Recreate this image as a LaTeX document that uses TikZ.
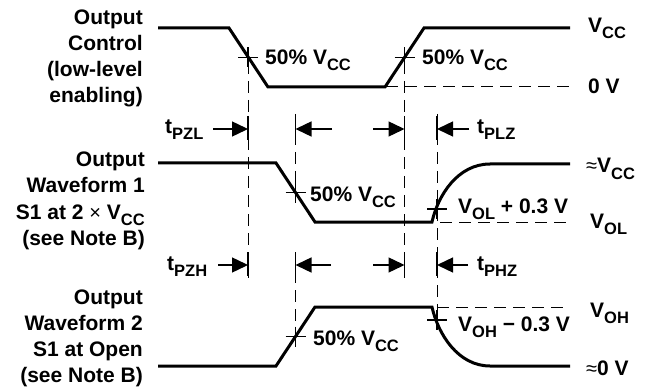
\documentclass[tikz,border=0pt]{standalone}
\usepackage{fontspec}
\setmainfont{Liberation Sans}
\usetikzlibrary{arrows.meta}
\newcommand\sbs[1]{\raisebox{-6pt}{\fontsize{16.5}{16.5}\selectfont #1}}
\newcommand\thinsym[1]{{\fontsize{20}{20}\selectfont\mdseries #1}}
\tikzset{
  lbl/.style={font=\fontsize{21}{25}\selectfont\bfseries, inner sep=0pt},
  lft/.style={lbl, anchor=base east},
  rgt/.style={lbl, anchor=base west},
  wave/.style={line width=3pt, line join=miter},
  guide/.style={line width=1pt, dash pattern=on 12pt off 7pt},
  crossline/.style={line width=1.2pt},
  tarrow/.style={line width=1.4pt, -{Triangle[length=16pt,width=15pt]}},
  tickline/.style={line width=1.2pt},
  xcross/.pic={\draw[crossline] (-10,0) -- (10,0) (0,-10) -- (0,10);}
}
\begin{document}
\begin{tikzpicture}[x=1pt,y=-1pt]
\useasboundingbox (0,0) rectangle (650,390);

% left labels
\node[lft] (l1a) at (143,25) {Output};
\node[lft] (l1b) at (143,51) {Control};
\node[lft] (l1c) at (143,77) {(low-level};
\node[lft] (l1d) at (143,103) {enabling)};
\node[lft] (l2a) at (145,167) {Output};
\node[lft] (l2b) at (145,193) {Waveform 1};
\node[lft] (l2c) at (145,219) {S1 at 2 \thinsym{×} V\sbs{CC}};
\node[lft] (l2d) at (145,245) {(see Note B)};
\node[lft] (l3a) at (143,304) {Output};
\node[lft] (l3b) at (143,330) {Waveform 2};
\node[lft] (l3c) at (143,356) {S1 at Open};
\node[lft] (l3d) at (143,382) {(see Note B)};

% right labels
\node[rgt] (r1) at (588,33) {V\sbs{CC}};
\node[rgt] (r2) at (588,94) {0 V};
\node[rgt] (r3) at (586,173) {\thinsym{≈}V\sbs{CC}};
\node[rgt] (r4) at (590,228) {V\sbs{OL}};
\node[rgt] (r5) at (590,317) {V\sbs{OH}};
\node[rgt] (r6) at (586,375) {\thinsym{≈}0 V};

% guide lines
\draw[guide] (248,62) -- (248,278);
\draw[guide] (404.5,62) -- (404.5,278);
\draw[guide] (295.5,114) -- (295.5,192.5);
\draw[guide] (295.5,252) -- (295.5,336.5);
\draw[guide] (437,114) -- (437,320);
\draw[guide] (386,87) -- (570,87);
\draw[guide] (440,222) -- (570,222);
\draw[guide] (437,307) -- (570,307);

% waveforms
\draw[wave] (158,28) -- (229,28) -- (268,87) -- (385,87) -- (424,28) -- (570,28);
\draw[wave] (158,163) -- (276,163) -- (315,222) -- (432,222)
  .. controls (438,195) and (458,164) .. (490,164) -- (570,164);
\draw[wave] (158,366) -- (276,366) -- (315,307) -- (432,307)
  .. controls (438,334) and (458,366) .. (490,366) -- (570,366);

% crosses
\pic at (248,57.5) {xcross};
\pic at (404.5,57.5) {xcross};
\pic at (295.5,192.5) {xcross};
\pic at (295.5,336.5) {xcross};
\pic at (437,209) {xcross};
\pic at (437,320) {xcross};

% inner labels
\node[rgt] (c1) at (265,65) {50\% V\sbs{CC}};
\node[rgt] (c2) at (422,65) {50\% V\sbs{CC}};
\node[rgt] (c3) at (310,201) {50\% V\sbs{CC}};
\node[rgt] (c4) at (313,345) {50\% V\sbs{CC}};
\node[rgt] (c5) at (458,213) {V\sbs{OL} + 0.3 V};
\node[rgt] (c6) at (458,331) {V\sbs{OH} − 0.3 V};

% timing labels
\node[rgt] (t1) at (165,134) {t\sbs{PZL}};
\node[rgt] (t2) at (477,134) {t\sbs{PLZ}};
\node[rgt] (t3) at (167,270) {t\sbs{PZH}};
\node[rgt] (t4) at (477,270) {t\sbs{PHZ}};

% timing arrows row 1
\coordinate (a1s) at (213,129); \coordinate (a1e) at (248,129);
\coordinate (a2s) at (332,129); \coordinate (a2e) at (295.5,129);
\coordinate (a3s) at (373,129); \coordinate (a3e) at (404.5,129);
\coordinate (a4s) at (469,129); \coordinate (a4e) at (437,129);
\draw[tarrow] (a1s) -- (a1e);
\draw[tarrow] (a2s) -- (a2e);
\draw[tarrow] (a3s) -- (a3e);
\draw[tarrow] (a4s) -- (a4e);
% timing arrows row 2
\coordinate (b1s) at (218,265); \coordinate (b1e) at (248,265);
\coordinate (b2s) at (331,265); \coordinate (b2e) at (295.5,265);
\coordinate (b3s) at (373,265); \coordinate (b3e) at (404.5,265);
\coordinate (b4s) at (468,265); \coordinate (b4e) at (437,265);
\draw[tarrow] (b1s) -- (b1e);
\draw[tarrow] (b2s) -- (b2e);
\draw[tarrow] (b3s) -- (b3e);
\draw[tarrow] (b4s) -- (b4e);

% ticks at arrow tips
\foreach \xx in {248,295.5,404.5,437}{
  \draw[tickline] (\xx,116) -- (\xx,140);
  \draw[tickline] (\xx,252) -- (\xx,276);
}
\end{tikzpicture}
\end{document}
